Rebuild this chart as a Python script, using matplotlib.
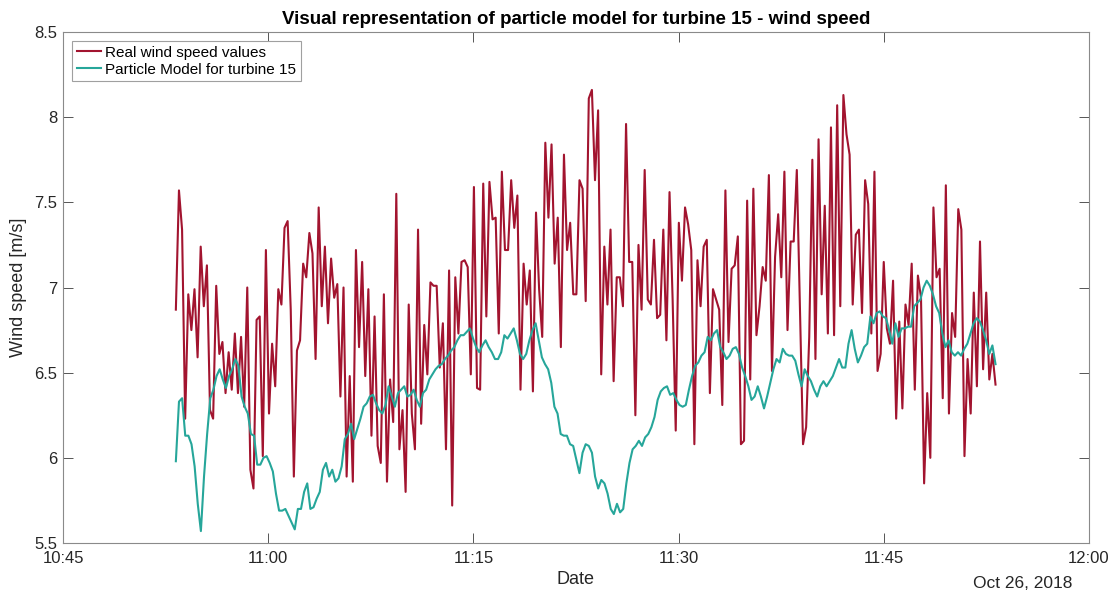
import matplotlib.pyplot as plt
import matplotlib.dates as mdates
import pandas as pd

plt.rcParams['font.family'] = ['Liberation Sans', 'DejaVu Sans']

# measurement window on Oct 26, 2018
start_time = '2018-10-26 10:53:15'
end_time = '2018-10-26 11:53:10'

# measured wind speed at turbine 15 [m/s]
real_speed = [
    6.87, 7.57, 7.34, 6.23, 6.96, 6.75, 6.99, 6.59, 7.24, 6.89, 7.13, 6.28, 6.23, 7.01, 6.61, 6.68,
    6.38, 6.62, 6.40, 6.73, 6.38, 6.71, 6.30, 7.00, 5.93, 5.82, 6.81, 6.83, 6.01, 7.22, 6.26, 6.67, 6.42,
    6.99, 6.90, 7.35, 7.39, 6.87, 5.89, 6.63, 6.69, 7.14, 7.06, 7.32, 7.20, 6.58, 7.47, 6.89, 7.24,
    6.79, 7.17, 6.94, 7.02, 6.36, 7.00, 5.89, 6.48, 5.86, 7.22, 6.65, 7.15, 6.48, 6.99, 6.13, 6.83,
    6.07, 5.97, 6.96,
    5.86, 6.46, 6.21, 7.55, 6.05, 6.28, 5.80, 6.90, 6.26, 6.05, 7.34, 6.20, 6.78, 6.49, 7.03, 7.01,
    7.01, 6.53, 6.79, 6.05, 7.10, 5.72, 7.06, 6.73, 7.15, 7.16, 7.12, 6.49, 7.59, 6.41, 6.40, 7.61,
    6.83, 7.62, 7.40, 7.41, 6.73, 7.68, 7.22, 7.22, 7.63, 7.35, 7.54, 6.40, 7.14, 6.90, 7.10, 6.39,
    7.44, 6.99, 6.71, 7.85, 7.41, 7.84, 7.14, 7.41, 6.65, 7.78, 7.22, 7.38, 6.96, 6.96, 7.63, 7.58,
    6.92, 8.11, 8.16, 7.63, 8.04, 6.49, 7.24, 6.90,
    7.34, 6.45, 7.06, 7.06, 6.89, 7.96, 7.15, 7.15, 6.25, 7.25, 6.87, 7.69, 6.93, 6.90, 7.28, 6.82,
    6.84, 7.34, 6.69, 7.56, 6.93, 6.16, 7.38, 7.04, 7.47, 7.37, 7.22, 6.08, 7.16, 6.89, 7.24, 7.28,
    6.38, 6.99, 6.93, 6.87, 6.31, 7.57,
    6.68, 7.11, 7.13, 7.30, 6.08, 6.10, 7.51, 6.46, 7.58, 6.72, 6.89, 7.12, 7.04, 7.66, 6.51, 7.18,
    7.43, 7.06, 7.68, 6.75, 7.27, 7.27, 7.69, 6.89, 6.08, 6.18, 6.71, 7.75, 6.58, 7.87, 6.96, 7.48,
    6.73, 7.94,
    6.72, 8.07, 6.89, 8.13, 7.90, 7.78, 6.90, 7.31, 7.34, 6.85, 7.63, 7.49, 6.73, 7.68, 6.51, 6.61,
    7.15, 6.76, 6.67, 7.04, 6.23, 6.80, 6.29, 6.90, 6.78, 7.14, 6.40, 7.07, 6.94, 5.85, 6.38, 6.00,
    7.47,
    7.06, 7.11, 6.35, 7.60, 6.26, 6.85, 6.71, 7.46, 7.34, 6.01, 6.58, 6.26, 6.97, 6.42, 7.27, 6.52,
    6.97, 6.46, 6.61, 6.43,
]

# particle model estimate for turbine 15 [m/s]
particle_speed = [
    5.98, 6.33, 6.35, 6.13, 6.13, 6.08, 5.95, 5.73, 5.57, 5.89, 6.14, 6.35, 6.40, 6.48, 6.52, 6.46,
    6.41, 6.48, 6.52, 6.58, 6.54, 6.36, 6.30, 6.26, 6.14, 6.13, 5.96, 5.96, 6.00, 6.01, 5.97, 5.92, 5.79,
    5.69, 5.69, 5.70, 5.66, 5.62, 5.58, 5.70, 5.70, 5.80, 5.85, 5.70, 5.71, 5.76, 5.80, 5.93, 5.97,
    5.89, 5.93, 5.86, 5.88, 5.95, 6.11, 6.14, 6.20, 6.11, 6.17, 6.23, 6.30, 6.32, 6.36, 6.37, 6.32,
    6.28, 6.26, 6.31,
    6.42, 6.36, 6.30, 6.38, 6.40, 6.42, 6.36, 6.37, 6.40, 6.34, 6.30, 6.38, 6.40, 6.46, 6.49, 6.52,
    6.54, 6.55, 6.58, 6.60, 6.63, 6.65, 6.69, 6.72, 6.72, 6.74, 6.76, 6.70, 6.65, 6.62, 6.66, 6.69,
    6.65, 6.62,
    6.58, 6.58, 6.62, 6.72, 6.70, 6.73, 6.76, 6.69, 6.61, 6.58, 6.61, 6.69, 6.75, 6.79, 6.69, 6.59,
    6.55, 6.52, 6.44, 6.30, 6.26, 6.14, 6.13, 6.13, 6.08, 6.07, 5.99, 5.91, 6.03, 6.08, 6.07, 6.03,
    5.89, 5.82,
    5.87, 5.85, 5.79, 5.70, 5.67, 5.73, 5.68, 5.70, 5.85, 5.97, 6.05, 6.07, 6.10, 6.07, 6.12, 6.14,
    6.18, 6.24, 6.34, 6.39, 6.41, 6.42, 6.37, 6.38, 6.34, 6.31, 6.30, 6.31, 6.40, 6.48, 6.54, 6.56,
    6.60, 6.62, 6.71, 6.69, 6.73, 6.75,
    6.65, 6.62, 6.58, 6.60, 6.64, 6.65, 6.61, 6.53, 6.48, 6.42, 6.34, 6.36, 6.42, 6.36, 6.29, 6.36,
    6.44, 6.52, 6.58, 6.56, 6.64, 6.61, 6.60, 6.60, 6.57, 6.49, 6.42, 6.52, 6.48, 6.45, 6.40, 6.36,
    6.42, 6.45,
    6.42, 6.45, 6.48, 6.53, 6.58, 6.53, 6.53, 6.67, 6.75, 6.64, 6.56, 6.60, 6.65, 6.67, 6.83, 6.79,
    6.85, 6.86, 6.83, 6.82, 6.75, 6.67, 6.79, 6.71, 6.76, 6.76, 6.77, 6.77, 6.89, 6.91, 6.93, 7.00,
    7.04, 7.01,
    6.96, 6.89, 6.85, 6.73, 6.65, 6.69, 6.62, 6.60, 6.62, 6.60, 6.64, 6.67, 6.73, 6.79, 6.82, 6.80,
    6.75, 6.69, 6.61, 6.66, 6.55,
]

t_real = pd.date_range(start_time, end_time, periods=len(real_speed))
t_particle = pd.date_range(start_time, end_time, periods=len(particle_speed))

fig = plt.figure(figsize=(11.16, 5.94), dpi=100)
ax = fig.add_axes([63 / 1116, 51 / 594, 1026 / 1116, 511 / 594])

ax.plot(t_real, real_speed, color='#a2142f', linewidth=1.5, label='Real wind speed values')
ax.plot(t_particle, particle_speed, color='#26a69a', linewidth=1.5, label='Particle Model for turbine 15')

ax.set_xlim(pd.Timestamp('2018-10-26 10:45'), pd.Timestamp('2018-10-26 12:00'))
ax.set_ylim(5.5, 8.5)
ax.set_yticks([5.5, 6, 6.5, 7, 7.5, 8, 8.5])
ax.set_yticklabels(['5.5', '6', '6.5', '7', '7.5', '8', '8.5'])
ax.xaxis.set_major_locator(mdates.MinuteLocator(byminute=[0, 15, 30, 45]))
ax.xaxis.set_major_formatter(mdates.DateFormatter('%H:%M'))

ax.tick_params(direction='in', top=True, right=True, length=7, width=0.7,
               color='#555555', labelcolor='#262626', labelsize=12)
ax.tick_params(axis='x', pad=6)
ax.tick_params(axis='y', pad=4)
for sp in ax.spines.values():
    sp.set_color('#8a8a8a')
    sp.set_linewidth(0.8)

ax.set_title('Visual representation of particle model for turbine 15 - wind speed',
             fontsize=13.5, fontweight='bold', pad=6)
ax.set_ylabel('Wind speed [m/s]', fontsize=13, color='#262626', labelpad=5)
ax.set_xlabel('Date', fontsize=13, color='#262626', labelpad=3)
fig.text(1072 / 1116, 1 - 583 / 594, 'Oct 26, 2018', ha='right', va='center',
         fontsize=12.5, color='#262626')

leg = ax.legend(loc='upper left', fontsize=11, handlelength=1.6, handletextpad=0.25,
                borderaxespad=0.6, borderpad=0.3, labelspacing=0.2,
                fancybox=False, framealpha=1, edgecolor='#a0a0a0')
leg.get_frame().set_linewidth(0.8)

plt.savefig('out.png', dpi=100)
